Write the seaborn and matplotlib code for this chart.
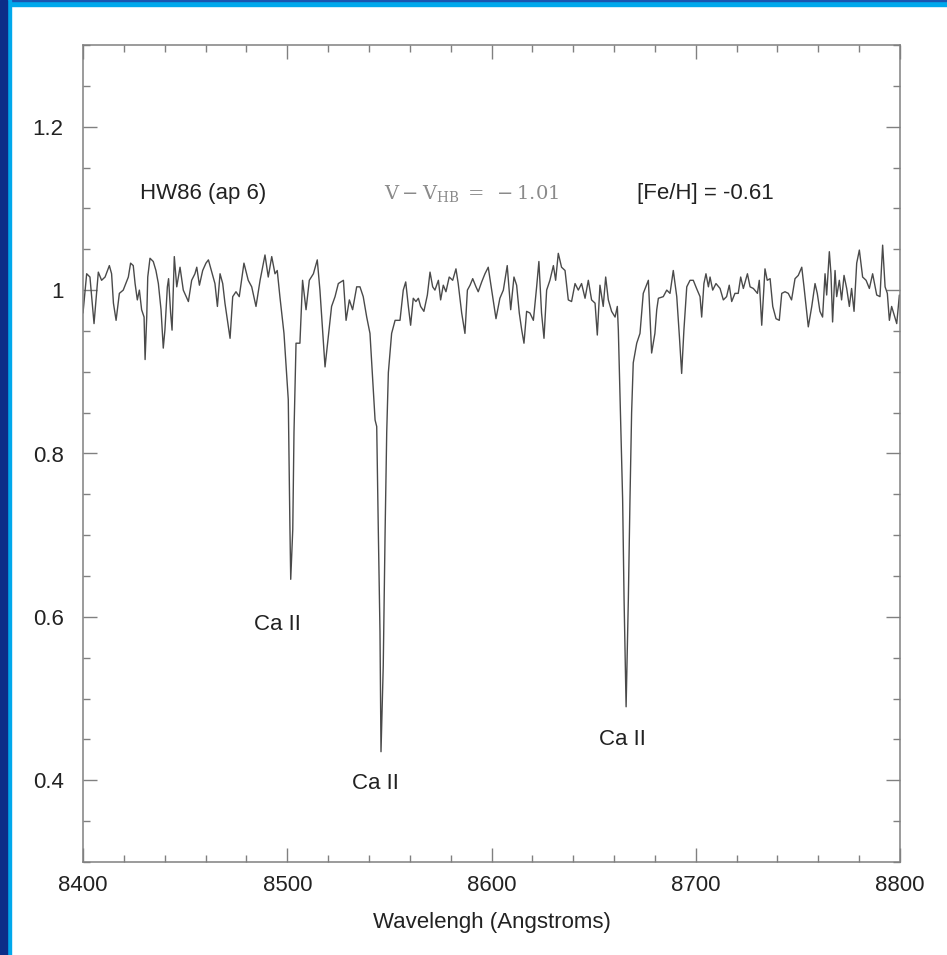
import matplotlib
matplotlib.use("Agg")
import pandas as pd
import matplotlib.pyplot as plt
import seaborn as sns
from matplotlib.patches import Rectangle
from matplotlib.ticker import MultipleLocator, FuncFormatter

# spectrum (wavelength in Angstroms, normalised flux)
wavelength = [
    8400.0, 8401.8, 8403.4, 8405.4, 8407.5, 8409.1, 8410.8, 8412.9, 8414.0, 8414.9,
    8416.2, 8417.8, 8419.7, 8422.2, 8423.3, 8424.6, 8425.5, 8426.6, 8427.6, 8428.7,
    8429.9, 8430.4, 8431.2, 8431.7, 8432.8, 8434.4, 8435.7, 8436.9, 8438.2, 8439.3,
    8440.1, 8441.3, 8441.9, 8442.9, 8443.6, 8444.7, 8445.9, 8447.5, 8449.1, 8451.6,
    8453.2, 8454.8, 8455.7, 8457.0, 8458.6, 8460.2, 8461.4, 8463.3, 8464.6, 8465.8,
    8467.1, 8468.4, 8469.5, 8472.0, 8473.3, 8474.9, 8476.5, 8478.8, 8480.9, 8482.6,
    8484.7, 8486.7, 8489.1, 8490.7, 8492.4, 8494.0, 8495.1, 8496.4, 8498.4, 8500.5,
    8501.3, 8501.7, 8502.7, 8503.3, 8504.3, 8506.2, 8507.5, 8509.2, 8510.8, 8512.8,
    8514.7, 8516.0, 8517.3, 8518.5, 8520.1, 8521.7, 8523.4, 8525.0, 8527.5, 8528.8,
    8530.4, 8532.0, 8534.0, 8535.6, 8537.2, 8538.9, 8540.5, 8543.0, 8543.8, 8544.6,
    8545.4, 8545.9, 8547.0, 8547.9, 8548.7, 8549.5, 8551.1, 8552.8, 8555.2, 8556.8,
    8558.0, 8559.3, 8560.4, 8561.7, 8563.0, 8564.2, 8565.3, 8566.9, 8568.6, 8569.9,
    8571.2, 8572.3, 8574.0, 8575.1, 8576.4, 8577.7, 8579.3, 8581.0, 8582.6, 8583.7,
    8585.4, 8587.0, 8588.2, 8589.5, 8590.8, 8592.4, 8593.5, 8595.2, 8596.8, 8598.4,
    8599.6, 8600.9, 8602.2, 8604.1, 8605.8, 8607.7, 8609.4, 8611.0, 8612.3, 8613.6,
    8614.8, 8615.9, 8617.2, 8618.8, 8620.5, 8622.1, 8623.2, 8624.5, 8625.7, 8627.0,
    8628.6, 8630.3, 8631.4, 8632.7, 8634.3, 8636.0, 8637.6, 8639.2, 8640.9, 8642.5,
    8644.1, 8645.8, 8647.4, 8649.0, 8650.7, 8651.8, 8653.1, 8654.7, 8655.9, 8657.2,
    8658.8, 8660.5, 8661.6, 8662.1, 8662.9, 8664.2, 8664.9, 8665.9, 8667.0, 8667.8,
    8668.6, 8669.4, 8671.1, 8672.7, 8674.3, 8676.8, 8678.4, 8680.0, 8680.9, 8681.7,
    8684.1, 8685.8, 8687.4, 8689.0, 8690.7, 8692.0, 8693.1, 8694.2, 8695.6, 8697.2,
    8698.8, 8700.4, 8702.1, 8702.9, 8704.0, 8705.0, 8706.2, 8707.0, 8708.3, 8709.9,
    8711.9, 8713.5, 8715.1, 8716.4, 8717.6, 8719.2, 8720.8, 8722.0, 8723.3, 8725.3,
    8726.6, 8728.2, 8730.2, 8731.1, 8732.3, 8733.9, 8735.0, 8736.4, 8737.7, 8739.3,
    8740.9, 8742.1, 8743.7, 8745.3, 8746.9, 8748.6, 8750.2, 8751.9, 8753.0, 8755.1,
    8756.8, 8758.4, 8759.5, 8760.8, 8762.1, 8763.3, 8764.1, 8765.4, 8766.2, 8767.0,
    8768.2, 8769.0, 8770.3, 8771.4, 8772.6, 8773.9, 8775.2, 8776.3, 8777.5, 8778.8,
    8780.1, 8781.7, 8783.4, 8785.0, 8786.6, 8788.6, 8790.2, 8791.5, 8792.7, 8793.8,
    8794.8, 8795.9, 8797.1, 8798.4, 8799.7,
]
flux = [
    0.972, 1.020, 1.016, 0.959, 1.022, 1.012, 1.016, 1.030, 1.020, 0.984,
    0.963, 0.996, 1.000, 1.016, 1.033, 1.030, 1.008, 0.988, 1.000, 0.976,
    0.967, 0.915, 0.967, 1.016, 1.039, 1.035, 1.024, 1.008, 0.976, 0.929,
    0.951, 1.004, 1.014, 0.972, 0.951, 1.041, 1.004, 1.028, 1.000, 0.986,
    1.012, 1.020, 1.028, 1.006, 1.024, 1.033, 1.037, 1.020, 1.008, 0.980,
    1.020, 1.008, 0.984, 0.941, 0.992, 0.998, 0.992, 1.033, 1.012, 1.004,
    0.980, 1.012, 1.043, 1.016, 1.041, 1.020, 1.024, 0.992, 0.947, 0.866,
    0.711, 0.646, 0.707, 0.826, 0.935, 0.935, 1.012, 0.976, 1.012, 1.020,
    1.037, 1.000, 0.951, 0.906, 0.943, 0.980, 0.992, 1.008, 1.012, 0.963,
    0.988, 0.976, 1.004, 1.004, 0.992, 0.967, 0.947, 0.841, 0.833, 0.703,
    0.582, 0.435, 0.540, 0.703, 0.826, 0.899, 0.947, 0.963, 0.963, 1.000,
    1.010, 0.980, 0.957, 0.990, 0.986, 0.990, 0.980, 0.974, 0.994, 1.022,
    1.004, 1.000, 1.012, 0.988, 1.006, 0.998, 1.016, 1.012, 1.026, 1.008,
    0.972, 0.947, 1.000, 1.006, 1.014, 1.004, 0.998, 1.010, 1.020, 1.028,
    1.008, 0.986, 0.965, 0.990, 1.000, 1.030, 0.976, 1.016, 1.006, 0.972,
    0.951, 0.935, 0.974, 0.972, 0.963, 1.004, 1.035, 0.972, 0.941, 1.000,
    1.012, 1.030, 1.012, 1.045, 1.028, 1.024, 0.988, 0.986, 1.008, 1.000,
    1.008, 0.990, 1.012, 0.988, 0.984, 0.945, 1.006, 0.980, 1.016, 0.988,
    0.974, 0.967, 0.980, 0.951, 0.874, 0.744, 0.622, 0.490, 0.622, 0.744,
    0.850, 0.911, 0.935, 0.947, 0.996, 1.012, 0.923, 0.947, 0.976, 0.990,
    0.992, 1.000, 0.996, 1.024, 0.992, 0.943, 0.898, 0.951, 1.004, 1.012,
    1.012, 1.002, 0.992, 0.967, 1.008, 1.020, 1.004, 1.016, 1.000, 1.008,
    1.002, 0.988, 0.992, 1.006, 0.986, 0.996, 0.996, 1.016, 1.002, 1.020,
    1.004, 1.002, 0.996, 1.012, 0.957, 1.026, 1.012, 1.014, 0.980, 0.965,
    0.963, 0.996, 0.998, 0.996, 0.988, 1.014, 1.018, 1.028, 1.004, 0.955,
    0.980, 1.008, 0.996, 0.974, 0.967, 1.020, 0.994, 1.047, 1.020, 0.961,
    1.024, 0.992, 1.012, 0.988, 1.018, 1.002, 0.980, 1.002, 0.974, 1.033,
    1.049, 1.016, 1.012, 1.002, 1.020, 0.994, 0.992, 1.055, 1.004, 0.996,
    0.963, 0.980, 0.970, 0.959, 0.994,
]

# line labels
line_names = ["Ca II", "Ca II", "Ca II"]
line_label_x = [8495.2, 8543.0, 8664.1]
line_label_y = [0.591, 0.396, 0.450]

star_name = "HW86 (ap 6)"
mag_text = r"$\mathrm{V-V_{HB}\;=\;-1.01}$"
feh_text = "[Fe/H] = -0.61"

sns.set_style("ticks")
plt.rcParams["font.family"] = ["Liberation Sans", "DejaVu Sans"]

df = pd.DataFrame({"wavelength": wavelength, "flux": flux})

fig = plt.figure(figsize=(9.47, 9.55), dpi=100)
fig.patch.set_facecolor("white")
ax = fig.add_axes([83 / 947, 1 - 862 / 955, 817 / 947, 817 / 955])

sns.lineplot(data=df, x="wavelength", y="flux", ax=ax, estimator=None,
             color="#4a4a4a", linewidth=1.0)

ax.set_xlim(8400, 8800)
ax.set_ylim(0.3, 1.3)
ax.xaxis.set_major_locator(MultipleLocator(100))
ax.xaxis.set_minor_locator(MultipleLocator(20))
ax.yaxis.set_major_locator(MultipleLocator(0.2))
ax.yaxis.set_minor_locator(MultipleLocator(0.05))
ax.yaxis.set_major_formatter(FuncFormatter(lambda v, p: f"{v:g}" if 0.35 < v < 1.25 else ""))

ax.tick_params(which="both", direction="in", top=True, right=True, color="#808080")
ax.tick_params(which="major", length=10, width=1)
ax.tick_params(which="minor", length=5, width=1)
ax.tick_params(axis="x", which="major", labelsize=16, pad=9, labelcolor="#222222")
ax.tick_params(axis="y", which="major", labelsize=16, pad=14, labelcolor="#222222")
for sp in ax.spines.values():
    sp.set_color("#808080")
    sp.set_linewidth(1.1)

ax.set_xlabel("Wavelengh (Angstroms)", fontsize=16, labelpad=12, color="#222222")
ax.set_ylabel("")

# header texts
ax.text(8427.9, 1.118, star_name, fontsize=16, va="center", ha="left", color="#222222")
ax.text(8590.0, 1.118, mag_text, fontsize=14, va="center", ha="center", color="#8a8a8a",
        math_fontfamily="dejavuserif")
ax.text(8671.2, 1.118, feh_text, fontsize=16, va="center", ha="left", color="#222222")

for name, lx, ly in zip(line_names, line_label_x, line_label_y):
    ax.text(lx, ly, name, fontsize=16, ha="center", va="center", color="#222222")

# blue slide frame (top and left)
fig.add_artist(Rectangle((0, 1 - 6 / 955), 1, 6 / 955, transform=fig.transFigure,
                         color="#00a8ec", zorder=0))
fig.add_artist(Rectangle((0, 1 - 1.5 / 955), 1, 1.5 / 955, transform=fig.transFigure,
                         color="#1b56b0", zorder=0))
fig.add_artist(Rectangle((0, 0), 11 / 947, 1, transform=fig.transFigure,
                         color="#00a8ec", zorder=0))
fig.add_artist(Rectangle((0, 0), 7 / 947, 1, transform=fig.transFigure,
                         color="#0c2d88", zorder=0))

fig.savefig("out.png", dpi=100, facecolor="white")
